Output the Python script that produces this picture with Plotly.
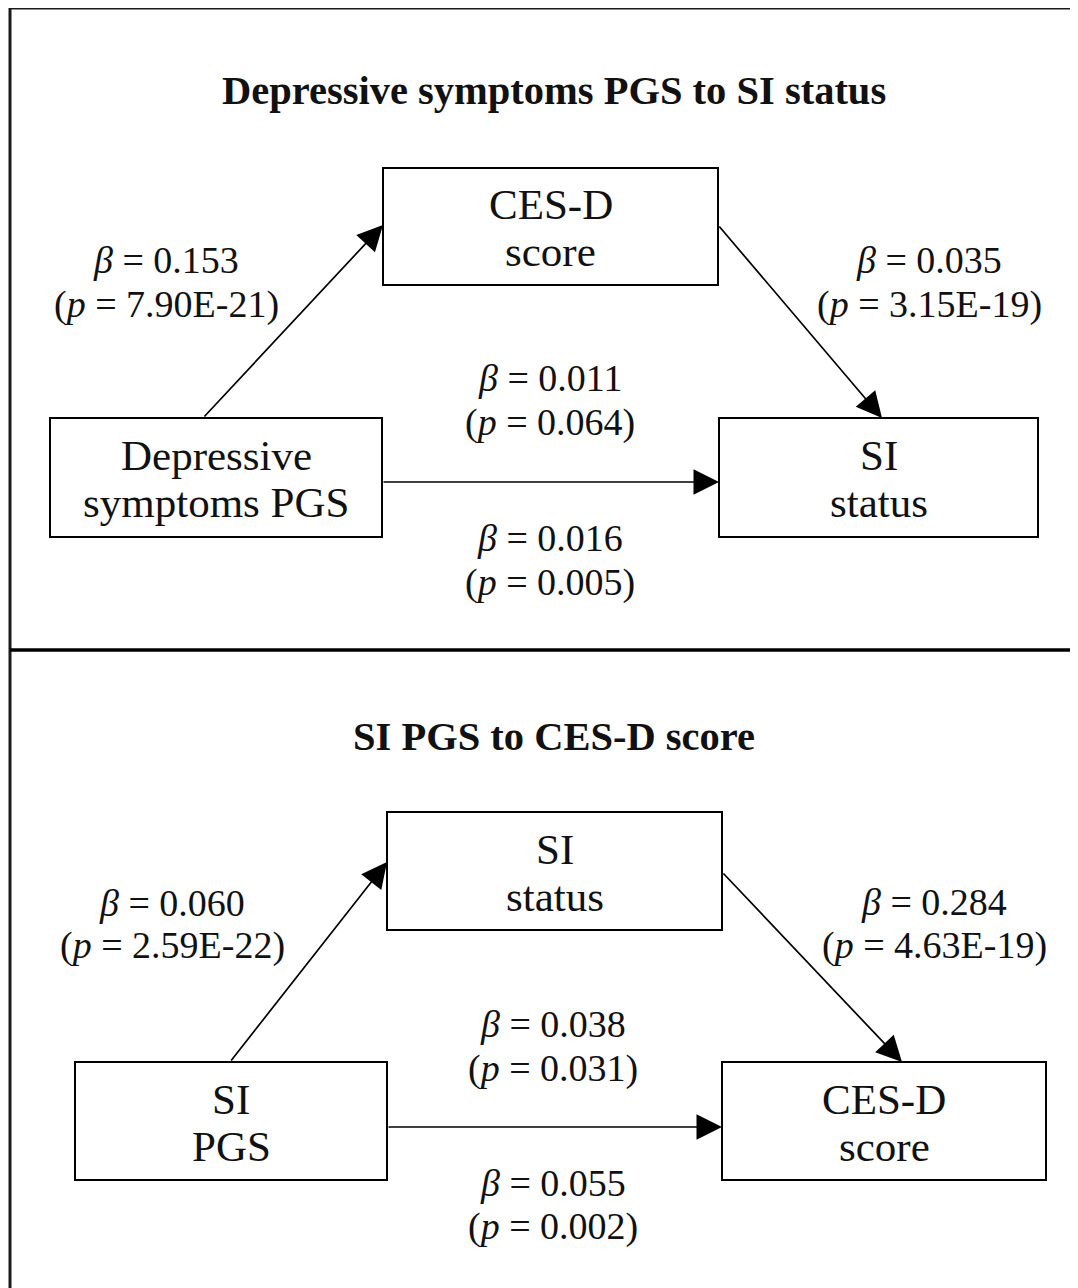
import plotly.graph_objects as go

# ---- data ----
panel_titles = ["Depressive symptoms PGS to SI status", "SI PGS to CES-D score"]
predictor_labels = [["Depressive", "symptoms PGS"], ["SI", "PGS"]]
mediator_labels = [["CES-D", "score"], ["SI", "status"]]
outcome_labels = [["SI", "status"], ["CES-D", "score"]]
beta_a = ["0.153", "0.060"]
p_a = ["7.90E-21", "2.59E-22"]
beta_b = ["0.035", "0.284"]
p_b = ["3.15E-19", "4.63E-19"]
beta_direct = ["0.011", "0.038"]
p_direct = ["0.064", "0.031"]
beta_total = ["0.016", "0.055"]
p_total = ["0.005", "0.002"]

W, H = 1078, 1288
OFF = 8  # page body margin
FONT = "Liberation Serif, Times New Roman, serif"

# layout geometry per panel (pixels in page coordinates)
geom = [
    dict(title_y=90, med=(383, 168, 718, 285), pred=(50, 418, 382, 537), out=(719, 418, 1038, 537),
         a_start=(203, 418), a_end=(383, 225), b_start=(718, 225), b_end=(882, 418),
         c_y=482, la=(166, 260, 304), lb=(929, 260, 304), lc=(550, 378, 422), lt=(550, 538, 582)),
    dict(title_y=736, med=(387, 812, 722, 930), pred=(75, 1062, 387, 1180), out=(722, 1062, 1046, 1180),
         a_start=(230, 1062), a_end=(387, 862), b_start=(722, 872), b_end=(902, 1062),
         c_y=1127, la=(172, 903, 945), lb=(934, 902, 945), lc=(553, 1024, 1068), lt=(553, 1183, 1226)),
]

shapes = []
annotations = []

# outer frame and divider
shapes.append(dict(type="line", x0=10, y0=8, x1=10, y1=H + 20, line=dict(color="#1a1a1a", width=3)))
shapes.append(dict(type="line", x0=10, y0=8, x1=1076, y1=8, line=dict(color="#1a1a1a", width=3)))
shapes.append(dict(type="line", x0=1075, y0=8, x1=1075, y1=H + 20, line=dict(color="#b0b0b0", width=1.5)))
shapes.append(dict(type="line", x0=10, y0=650, x1=1078, y1=650, line=dict(color="#000000", width=3.5)))

def box(rect):
    x0, y0, x1, y1 = rect
    shapes.append(dict(type="rect", x0=x0, y0=y0, x1=x1, y1=y1,
                       line=dict(color="#000000", width=2), fillcolor="rgba(0,0,0,0)"))

def text(x, y, s, size, bold=False):
    annotations.append(dict(x=x, y=y, text=f"<b>{s}</b>" if bold else s, showarrow=False,
                            xref="x", yref="y", font=dict(family=FONT, size=size, color="#111")))

def box_text(rect, lines):
    x0, y0, x1, y1 = rect
    cx, cy = (x0 + x1) / 2, (y0 + y1) / 2
    text(cx, cy - 22, lines[0], 43)
    text(cx, cy + 25, lines[1], 43)

def arrow(start, end):
    annotations.append(dict(x=end[0], y=end[1], ax=start[0], ay=start[1], xref="x", yref="y",
                            axref="x", ayref="y", text="", showarrow=True, arrowhead=2,
                            arrowsize=3, arrowwidth=1.7, arrowcolor="#000"))

def coef(pos, beta, p):
    x, y1, y2 = pos
    text(x, y1, f"<i>β</i> = {beta}", 38)
    text(x, y2, f"(<i>p</i> = {p})", 38)

for i, g in enumerate(geom):
    text(554, g["title_y"], panel_titles[i], 40.5, bold=True)
    box(g["med"]); box(g["pred"]); box(g["out"])
    box_text(g["med"], mediator_labels[i])
    box_text(g["pred"], predictor_labels[i])
    box_text(g["out"], outcome_labels[i])
    arrow(g["a_start"], g["a_end"])
    arrow(g["b_start"], g["b_end"])
    arrow((g["pred"][2], g["c_y"]), (g["out"][0], g["c_y"]))
    coef(g["la"], beta_a[i], p_a[i])
    coef(g["lb"], beta_b[i], p_b[i])
    coef(g["lc"], beta_direct[i], p_direct[i])
    coef(g["lt"], beta_total[i], p_total[i])

fig = go.Figure()
fig.update_layout(
    width=W, height=H, margin=dict(l=0, r=0, t=0, b=0),
    paper_bgcolor="white", plot_bgcolor="white",
    xaxis=dict(range=[OFF, W + OFF], visible=False, fixedrange=True),
    yaxis=dict(range=[H + OFF, OFF], visible=False, fixedrange=True),
    shapes=shapes, annotations=annotations, showlegend=False,
)
fig.write_html("out.html")
